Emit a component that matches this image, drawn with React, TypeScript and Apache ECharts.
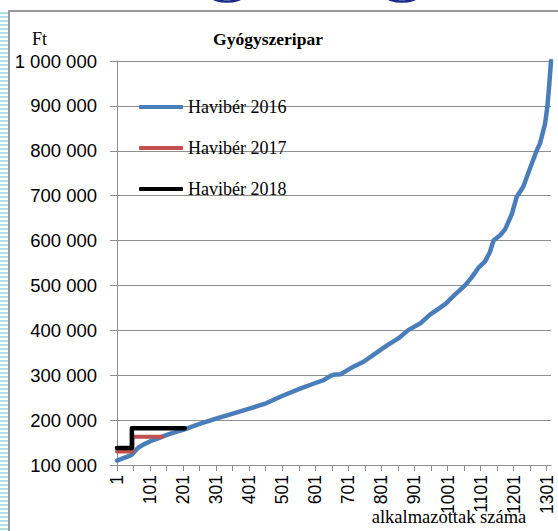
import React, { useEffect, useRef } from "react";
import * as echarts from "echarts";

// Employee index (rank) and monthly wage (Ft)
const havi2016Employees = [1, 16, 31, 46, 56, 66, 82, 102, 127, 152, 177, 203, 253, 303, 354, 404, 454, 495, 555, 595, 626, 646, 656, 677, 711, 747, 782, 817, 852, 883, 918, 948, 978, 998, 1024, 1054, 1074, 1094, 1114, 1129, 1140, 1160, 1175, 1195, 1210, 1230, 1250, 1271, 1281, 1296, 1303, 1309, 1314];
const havi2016Values = [110000, 114000, 118000, 123000, 131000, 139000, 146000, 153000, 160000, 167000, 173000, 179000, 192000, 204000, 215000, 226000, 238000, 252000, 270000, 281000, 289000, 298000, 301000, 302000, 317000, 330000, 348000, 366000, 382000, 401000, 415000, 435000, 450000, 461000, 480000, 500000, 518000, 539000, 553000, 574000, 600000, 612000, 625000, 658000, 697000, 720000, 760000, 801000, 817000, 860000, 898000, 950000, 1000000];

const havi2017Employees = [1, 48, 48, 137];
const havi2017Values = [130000, 130000, 163000, 163000];

const havi2018Employees = [1, 46, 46, 206];
const havi2018Values = [138000, 138000, 182000, 182000];

const seriesNames = ["Havibér 2016", "Havibér 2017", "Havibér 2018"];
const seriesColors = ["#4a7ebb", "#c0504d", "#000000"];

const yMin = 100000;
const yMax = 1000000;
const yInterval = 100000;
const xMaxIndex = 1314;
const xTickStep = 50;
const xLabelStep = 100;

const titleText = "Gyógyszeripar";
const yUnitText = "Ft";
const xNameText = "alkalmazottak száma";

const SERIF = '"Liberation Serif", "Times New Roman", serif';
const SANS = '"Liberation Sans", Arial, sans-serif';

function pairs(xs: number[], ys: number[]) {
  return xs.map((x, i) => [x - 1, ys[i]]);
}

function fmtThousands(v: number) {
  return String(v).replace(/\B(?=(\d{3})+(?!\d))/g, " ");
}

export default function App() {
  const ref = useRef<HTMLDivElement>(null);

  useEffect(() => {
    if (!ref.current) return;
    const chart = echarts.init(ref.current, null, { renderer: "svg" });
    const gridColor = "#8e8e8e";
    const dataSets = [
      pairs(havi2016Employees, havi2016Values),
      pairs(havi2017Employees, havi2017Values),
      pairs(havi2018Employees, havi2018Values),
    ];
    const widths = [4.5, 4, 4.5];
    chart.setOption({
      animation: false,
      backgroundColor: "transparent",
      grid: {
        left: 117,
        right: 7,
        top: 61,
        bottom: 66,
        containLabel: false,
        outerBoundsMode: "none",
      },
      legend: {
        orient: "vertical",
        left: 139,
        top: 97,
        padding: 0,
        itemGap: 21,
        itemWidth: 44,
        itemHeight: 4,
        icon: "roundRect",
        data: seriesNames,
        textStyle: {
          fontFamily: SERIF,
          fontSize: 18,
          color: "#000",
          lineHeight: 20,
        },
      },
      xAxis: {
        type: "value",
        min: 0,
        max: xMaxIndex - 1,
        interval: xTickStep,
        axisLine: { show: true, lineStyle: { color: gridColor, width: 1 } },
        axisTick: { show: true, length: 6, lineStyle: { color: gridColor } },
        splitLine: { show: false },
        axisLabel: {
          rotate: 90,
          margin: 10,
          fontFamily: SANS,
          fontSize: 17.5,
          color: "#000",
          showMaxLabel: false,
          formatter: (v: number) => (v % xLabelStep === 0 ? String(v + 1) : ""),
        },
      },
      yAxis: {
        type: "value",
        min: yMin,
        max: yMax,
        interval: yInterval,
        axisLine: { show: true, lineStyle: { color: gridColor, width: 1 } },
        axisTick: { show: true, inside: false, length: 7, lineStyle: { color: gridColor } },
        splitLine: { show: true, lineStyle: { color: gridColor, width: 1 } },
        axisLabel: {
          margin: 20,
          fontFamily: SANS,
          fontSize: 18.5,
          color: "#000",
          formatter: (v: number) => fmtThousands(v),
        },
      },
      series: seriesNames.map((name, k) => ({
        name,
        type: "line",
        data: dataSets[k],
        showSymbol: false,
        symbol: "none",
        color: seriesColors[k],
        lineStyle: { color: seriesColors[k], width: widths[k], cap: "round", join: "round" },
        z: 2 + k,
      })),
      graphic: [
        {
          type: "text",
          x: 39.5,
          y: 39,
          style: {
            text: yUnitText,
            fill: "#000",
            font: `18px ${SERIF}`,
            align: "center",
            verticalAlign: "middle",
          },
        },
        {
          type: "text",
          x: 268,
          y: 39,
          style: {
            text: titleText,
            fill: "#000",
            font: `bold 17.5px ${SERIF}`,
            align: "center",
            verticalAlign: "middle",
          },
        },
        {
          type: "text",
          x: 449,
          y: 517,
          z: 10,
          style: {
            text: xNameText,
            fill: "#000",
            font: `18.5px ${SERIF}`,
            align: "center",
            verticalAlign: "middle",
          },
        },
        {
          type: "ellipse",
          shape: { cx: 227, cy: -3.5, rx: 15, ry: 5 },
          style: { fill: "none", stroke: "#1b2a8a", lineWidth: 2.5 },
        },
        {
          type: "ellipse",
          shape: { cx: 402, cy: -3.5, rx: 15, ry: 5 },
          style: { fill: "none", stroke: "#1b2a8a", lineWidth: 2.5 },
        },
      ],
    });
    return () => chart.dispose();
  }, []);

  return (
    <div
      style={{
        position: "fixed",
        left: 0,
        top: 0,
        width: 558,
        height: 531,
        background: "#fff",
        overflow: "hidden",
      }}
    >
      <div
        style={{
          position: "absolute",
          left: 0,
          top: 12,
          width: 7.5,
          height: 519,
          background:
            "repeating-linear-gradient(to bottom, #b2dfe3 0px, #b2dfe3 2.5px, #ffffff 2.5px, #ffffff 4px)",
        }}
      />
      <div
        style={{
          position: "absolute",
          left: 8,
          top: 10,
          width: 560,
          height: 530,
          borderLeft: "2px solid #9a9a9a",
          borderTop: "2px solid #9a9a9a",
        }}
      />
      <div
        ref={ref}
        style={{ position: "absolute", left: 0, top: 0, width: 558, height: 531 }}
      />
    </div>
  );
}
